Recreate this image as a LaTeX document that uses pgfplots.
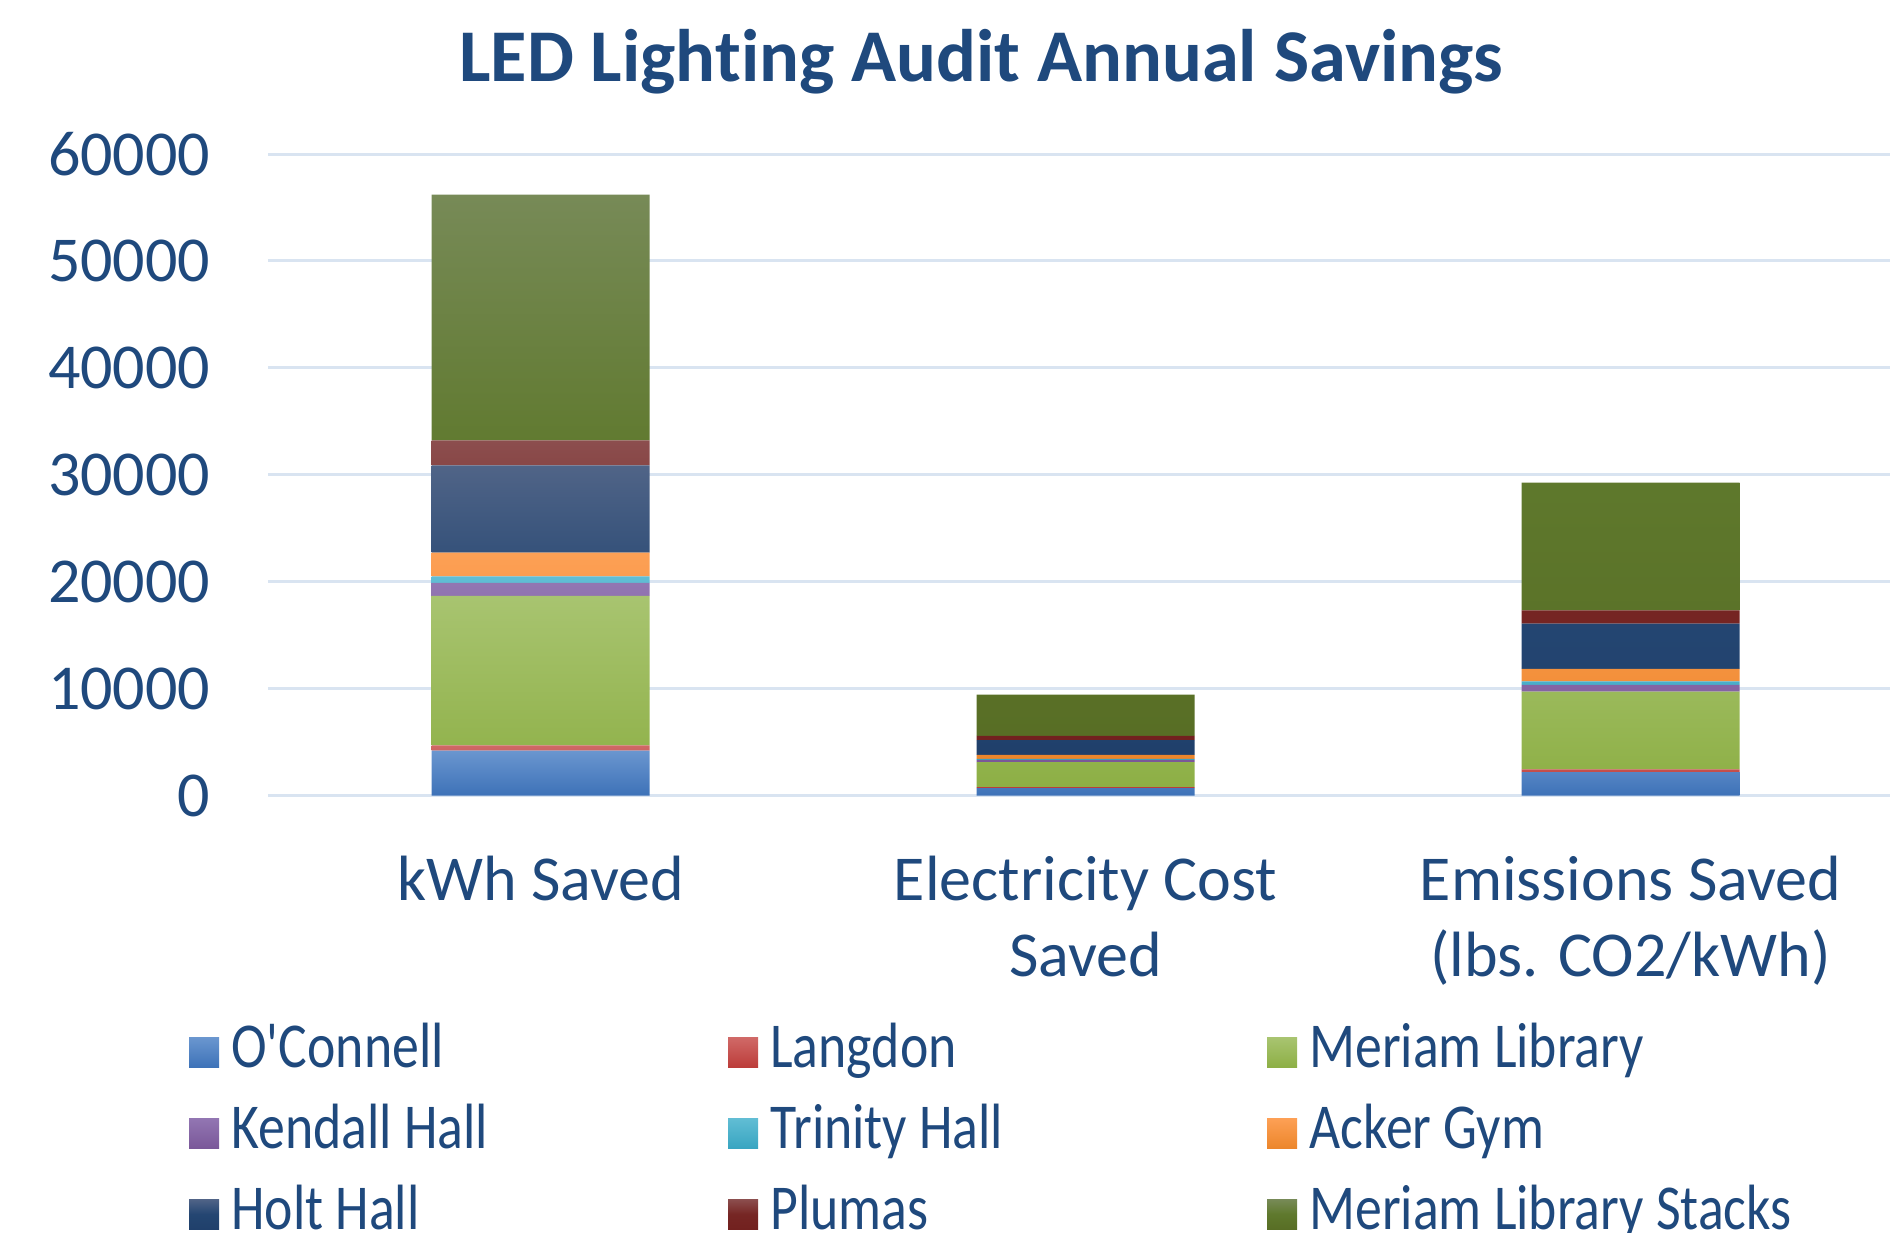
\documentclass[border=0pt]{standalone}
\usepackage{fontspec}
\setmainfont{Carlito}[Ligatures={TeX,NoCommon}]
\newfontfamily\legfont{Carlito}[FakeStretch=0.84, Ligatures={TeXOff,NoCommon}]
\usepackage{pgfplots}
\pgfplotsset{compat=1.18}
\definecolor{txt}{HTML}{1F497D}
\definecolor{gridc}{HTML}{D9E4F1}
\pgfplotsset{/pgfplots/ybar legend/.style={/pgfplots/legend image code/.code={\path[##1,draw=none,fill=none] (0pt,-3.5pt) rectangle (7.5pt,4pt);}}}
\newcommand{\leg}[1]{\makebox[127.25pt][l]{\hspace{3.1pt}#1}}
\begin{document}
\begin{tikzpicture}
\begin{axis}[
  at={(67pt,109.1pt)}, anchor=south west,
  scale only axis, width=405.5pt, height=160.4pt,
  ybar stacked, bar width=54.5pt,
  every axis plot post/.append style={legend image code/.code={\path[##1,draw=none,fill=none] (0pt,-3.5pt) rectangle (7.5pt,4pt);}},
  xmin=-0.5, xmax=2.476, ymin=0, ymax=60000,
  enlargelimits=false, clip=false,
  axis line style={draw=none}, major tick length=0pt,
  ymajorgrids, grid style={color=gridc, line width=0.75pt},
  ytick={0,10000,20000,30000,40000,50000,60000},
  scaled y ticks=false,
  /pgf/number format/.cd, 1000 sep={}, assume math mode=true, /pgfplots/.cd,
  yticklabel style={anchor=east, inner sep=0pt, xshift=-14.25pt, font=\fontsize{16}{19}\selectfont, text=txt},
  xtick={0,1,2},
  xticklabels={kWh Saved, {Electricity Cost\\Saved}, {Emissions Saved\\(lbs. CO2/kWh)}},
  xticklabel style={anchor=north, align=center, inner sep=0pt, yshift=-15pt, font=\fontsize{16}{19}\selectfont, text=txt},
  legend columns=3, legend cell align=left,
  legend style={at={(axis description cs:0,0)}, anchor=north west, xshift=-19.75pt, yshift=-57pt,
    draw=none, fill=none, inner sep=0pt, outer sep=0pt, column sep=0pt, row sep=5.2pt,
    font=\legfont\fontsize{16}{19}\selectfont, text=txt,
    nodes={inner sep=0pt, text height=11pt, text depth=4pt}},
]
\addplot[draw=none, top color={rgb,255:red,106;green,150;blue,207}, bottom color={rgb,255:red,61;green,114;blue,184}] coordinates {(0,4210) (1,707) (2,2193)};
\addlegendentry{\leg{O'Connell}}
\addplot[draw=none, top color={rgb,255:red,208;green,105;blue,103}, bottom color={rgb,255:red,188;green,60;blue,57}] coordinates {(0,480) (1,81) (2,250)};
\addlegendentry{\leg{Langdon}}
\addplot[draw=none, top color={rgb,255:red,168;green,196;blue,112}, bottom color={rgb,255:red,141;green,175;blue,69}] coordinates {(0,13990) (1,2350) (2,7289)};
\addlegendentry{\leg{Meriam Library}}
\addplot[draw=none, top color={rgb,255:red,146;green,118;blue,178}, bottom color={rgb,255:red,122;green,88;blue,153}] coordinates {(0,1210) (1,203) (2,630)};
\addlegendentry{\leg{Kendall Hall}}
\addplot[draw=none, top color={rgb,255:red,97;green,189;blue,212}, bottom color={rgb,255:red,56;green,165;blue,193}] coordinates {(0,610) (1,102) (2,318)};
\addlegendentry{\leg{Trinity Hall}}
\addplot[draw=none, top color={rgb,255:red,253;green,160;blue,85}, bottom color={rgb,255:red,236;green,134;blue,43}] coordinates {(0,2230) (1,375) (2,1162)};
\addlegendentry{\leg{Acker Gym}}
\addplot[draw=none, top color={rgb,255:red,80;green,100;blue,135}, bottom color={rgb,255:red,32;green,64;blue,107}, middle color={rgb,255:red,36;green,70;blue,114}] coordinates {(0,8160) (1,1371) (2,4251)};
\addlegendentry{\leg{Holt Hall}}
\addplot[draw=none, top color={rgb,255:red,140;green,78;blue,78}, bottom color={rgb,255:red,114;green,33;blue,31}, middle color={rgb,255:red,118;green,38;blue,36}] coordinates {(0,2340) (1,393) (2,1219)};
\addlegendentry{\leg{Plumas}}
\addplot[draw=none, top color={rgb,255:red,119;green,138;blue,87}, bottom color={rgb,255:red,88;green,110;blue,37}, middle color={rgb,255:red,95;green,121;blue,45}] coordinates {(0,22970) (1,3859) (2,11967)};
\addlegendentry{\leg{Meriam Library Stacks}}
\end{axis}
\node[font=\fontsize{18.6}{23}\bfseries\selectfont, text=txt, anchor=base] at (245.3pt,287.5pt) {LED Light\kern0pt ing Audit Annual Savings};
\pgfresetboundingbox
\path[use as bounding box] (0,0) rectangle (472.5pt,308pt);
\end{tikzpicture}
\end{document}
